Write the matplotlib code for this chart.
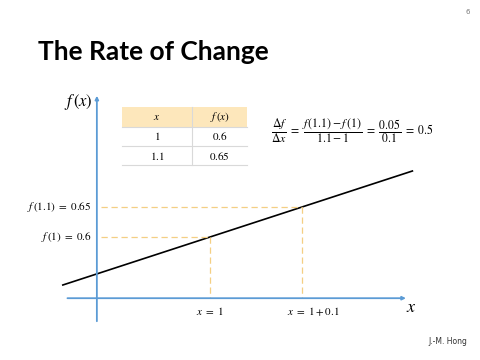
import matplotlib
matplotlib.use("Agg")
import matplotlib.pyplot as plt
from matplotlib.patches import Rectangle

# ---- data ----
x_points = [1.0, 1.1]
f_points = [0.6, 0.65]
slope = 0.5
line_x = [0.84, 1.22]
table_header = ["x", "f(x)"]
table_rows = [["1", "0.6"], ["1.1", "0.65"]]
x_labels = [r"$x\ =\ 1$", r"$x\ =\ 1+0.1$"]
y_labels = [r"$f\,(1)\ =\ 0.6$", r"$f\,(1.1)\ =\ 0.65$"]

plt.rcParams["mathtext.fontset"] = "stix"

W, H = 480, 360
fig = plt.figure(figsize=(4.8, 3.6), dpi=100)
fig.patch.set_facecolor("white")
ax = fig.add_axes([0, 0, 1, 1])
ax.set_xlim(0.7717, 1.2935)
ax.set_ylim(0.395, 0.995)
ax.axis("off")

def P(px, py):
    return (px / W, 1 - py / H)

tf = fig.transFigure
blue = "#5b9bd5"
gold = "#f4cf83"

# axes lines
x0_axis = 0.877
y0_axis = 0.498
ax.annotate("", xy=(1.216, y0_axis), xytext=(0.842, y0_axis),
            arrowprops=dict(arrowstyle="-|>", color=blue, lw=1.3, mutation_scale=5))
ax.annotate("", xy=(x0_axis, 0.84), xytext=(x0_axis, 0.455),
            arrowprops=dict(arrowstyle="-|>", color=blue, lw=1.3, mutation_scale=5))

# the function line
fl = [f_points[0] + slope * (xx - x_points[0]) for xx in line_x]
ax.plot(line_x, fl, color="black", lw=1.2)

# dashed guides
for xv, fv in zip(x_points, f_points):
    ax.plot([x0_axis + 0.004, xv], [fv, fv], ls=(0, (5, 3)), color=gold, lw=0.9)
    ax.plot([xv, xv], [fv, y0_axis], ls=(0, (5, 3)), color=gold, lw=0.9)

# tick-like labels
for lab, fv in zip(y_labels, f_points):
    ax.text(x0_axis - 0.006, fv, lab, ha="right", va="center", fontsize=8)
ax.text(x_points[0], y0_axis - 0.012, x_labels[0], ha="center", va="top", fontsize=8)
ax.text(x_points[1] - 0.016, y0_axis - 0.012, x_labels[1], ha="left", va="top", fontsize=8)

# axis names
fig.text(*P(78, 102), r"$f\,(x)$", ha="center", va="center", fontsize=12, transform=tf)
fig.text(*P(411, 307), r"$x$", ha="center", va="center", fontsize=13, transform=tf)

# title and slide decorations
fig.text(*P(38, 52), "The Rate of Change", ha="left", va="center",
         fontsize=19, fontweight="bold", family="Lato", transform=tf)
fig.text(*P(468, 12), "6", ha="center", va="center", fontsize=5, color="#777777", transform=tf)
fig.text(*P(448, 341), "J.-M. Hong", ha="center", va="center", fontsize=5.5,
         color="#333333", transform=tf)

# table
tx0, tx1, tx2 = 122, 192, 247
ty = [107, 127, 146, 165]
fig.patches.append(Rectangle(P(tx0, ty[1]), (tx2 - tx0) / W, (ty[1] - ty[0]) / H,
                             transform=tf, facecolor="#fde7bb", edgecolor="none"))
for yy in ty[1:]:
    fig.lines.append(plt.Line2D([tx0 / W, tx2 / W], [1 - yy / H] * 2, transform=tf,
                                color="#d9d9d9", lw=0.8))
fig.lines.append(plt.Line2D([tx1 / W] * 2, [1 - ty[0] / H, 1 - ty[3] / H], transform=tf,
                            color="#d9d9d9", lw=0.8))
cx = [(tx0 + tx1) / 2, (tx1 + tx2) / 2]
fig.text(*P(cx[0], (ty[0] + ty[1]) / 2), r"$%s$" % table_header[0], ha="center", va="center",
         fontsize=8, transform=tf)
fig.text(*P(cx[1], (ty[0] + ty[1]) / 2), r"$f\,(x)$", ha="center", va="center",
         fontsize=8, transform=tf)
for r, row in enumerate(table_rows):
    for c, val in enumerate(row):
        fig.text(*P(cx[c], (ty[r + 1] + ty[r + 2]) / 2), r"$\mathrm{%s}$" % val,
                 ha="center", va="center", fontsize=8, transform=tf)

# equation
fig.text(*P(271, 131),
         r"$\dfrac{\Delta f}{\Delta x}\ =\ \dfrac{f\,(1.1)-f\,(1)}{1.1-1}\ =\ \dfrac{0.05}{0.1}\ =\ 0.5$",
         ha="left", va="center", fontsize=8.5, transform=tf)

fig.savefig("out.png", dpi=100, facecolor="white")
